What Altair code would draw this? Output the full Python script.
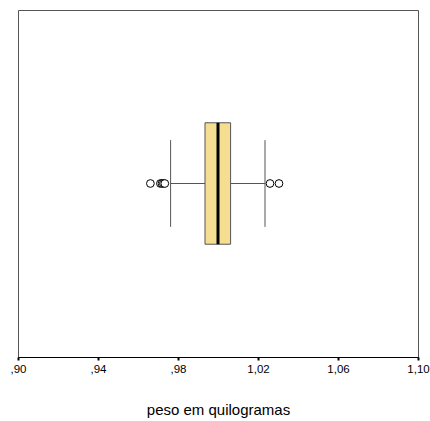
import altair as alt
import pandas as pd

# Summary statistics of the weight sample (kg)
q1 = [0.9935]
median = [1.0000]
q3 = [1.0063]
whisker_low = [0.9763]
whisker_high = [1.0235]
outliers = [0.9662, 0.9712, 0.9720, 0.9727, 0.9734, 1.0260, 1.0305]
tick_values = [0.90, 0.94, 0.98, 1.02, 1.06, 1.10]

FONT = "Liberation Sans"
x_scale = alt.Scale(domain=[0.90, 1.10], nice=False, zero=False)
y_scale = alt.Scale(domain=[0, 1])

label_expr = ("datum.value < 1 ? replace(format(datum.value, '.2f'), '0.', ',') "
              ": replace(format(datum.value, '.2f'), '.', ',')")

box_df = pd.DataFrame({"q1": q1, "q3": q3, "median": median,
                       "lo": whisker_low, "hi": whisker_high,
                       "y": [0.325], "y2": [0.675], "c": [0.5],
                       "cap1": [0.375], "cap2": [0.625]})
out_df = pd.DataFrame({"v": outliers, "y": [0.5] * len(outliers)})

x_axis = alt.Axis(values=tick_values, labelExpr=label_expr, grid=False,
                  title="peso em quilogramas", titleFont=FONT, titleFontSize=15,
                  titleFontWeight="normal", titleColor="black", titlePadding=28,
                  labelFont=FONT, labelFontSize=11.5, labelColor="black", labelPadding=3,
                  domainColor="black", domainWidth=1, tickColor="black",
                  tickSize=3, tickWidth=2, labelFlush=False)

base = alt.Chart(box_df)

whisker_left = base.mark_rule(color="#555555", strokeWidth=1).encode(
    x=alt.X("lo:Q", scale=x_scale, axis=x_axis), x2="q1:Q",
    y=alt.Y("c:Q", scale=y_scale, axis=None))
whisker_right = base.mark_rule(color="#555555", strokeWidth=1).encode(
    x=alt.X("q3:Q", scale=x_scale), x2="hi:Q",
    y=alt.Y("c:Q", scale=y_scale, axis=None))
cap_low = base.mark_rule(color="#555555", strokeWidth=1).encode(
    x=alt.X("lo:Q", scale=x_scale),
    y=alt.Y("cap1:Q", scale=y_scale, axis=None), y2="cap2:Q")
cap_high = base.mark_rule(color="#555555", strokeWidth=1).encode(
    x=alt.X("hi:Q", scale=x_scale),
    y=alt.Y("cap1:Q", scale=y_scale, axis=None), y2="cap2:Q")
box = base.mark_rect(fill="#F5DE91", stroke="#555555", strokeWidth=1).encode(
    x=alt.X("q1:Q", scale=x_scale), x2="q3:Q",
    y=alt.Y("y:Q", scale=y_scale, axis=None), y2="y2:Q")
median_line = base.mark_rule(color="black", strokeWidth=3).encode(
    x=alt.X("median:Q", scale=x_scale),
    y=alt.Y("y:Q", scale=y_scale, axis=None), y2="y2:Q")
points = alt.Chart(out_df).mark_point(shape="circle", size=60, filled=False,
                                      fill="white", color="black",
                                      strokeWidth=1, opacity=1).encode(
    x=alt.X("v:Q", scale=x_scale),
    y=alt.Y("y:Q", scale=y_scale, axis=None))

chart = alt.layer(whisker_left, whisker_right, cap_low, cap_high, box,
                  median_line, points).properties(
    width=400, height=347,
    autosize=alt.AutoSizeParams(type="none"),
    padding={"left": 18, "top": 10, "right": 12, "bottom": 64},
    background="white",
).configure_view(stroke="#555555", strokeWidth=1)

chart.save("out.html", embed_options={"renderer": "svg", "actions": False})
